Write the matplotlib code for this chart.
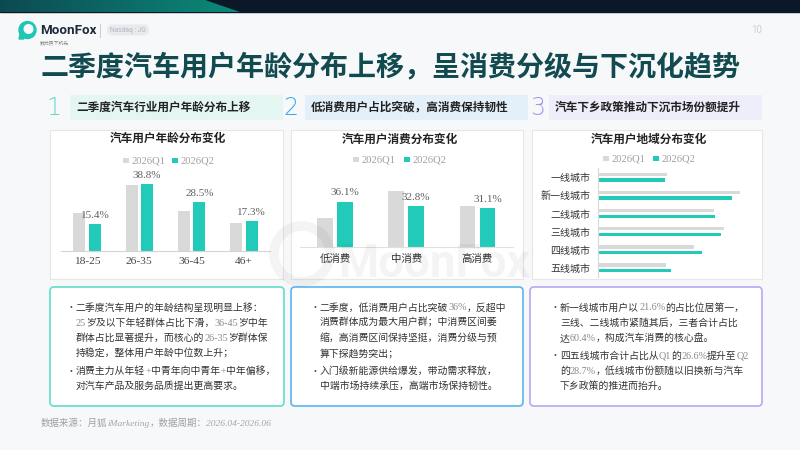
import re
import matplotlib
matplotlib.use('Agg')
import matplotlib.pyplot as plt
from matplotlib.patches import FancyBboxPatch, Rectangle, Polygon, Circle
from matplotlib.colors import LinearSegmentedColormap
import numpy as np

CJK = ['Noto Sans CJK SC', 'DejaVu Sans']
SERIF = ['Liberation Serif', 'DejaVu Serif']
plt.rcParams['font.family'] = CJK

# ---------------- data ----------------
series = ['2026Q1', '2026Q2']
age_groups = ['18-25', '26-35', '36-45', '46+']
age_q1 = [22.0, 38.5, 23.3, 16.2]
age_q2 = [15.4, 38.8, 28.5, 17.3]
spend_levels = ['低消费', '中消费', '高消费']
spend_q1 = [22.9, 44.7, 32.4]
spend_q2 = [36.1, 32.8, 31.1]
city_tiers = ['一线城市', '新一线城市', '二线城市', '三线城市', '四线城市', '五线城市']
city_q1 = [11.2, 23.0, 18.8, 20.4, 15.5, 11.1]
city_q2 = [10.9, 21.6, 18.9, 19.9, 16.8, 11.9]

title = '二季度汽车用户年龄分布上移，呈消费分级与下沉化趋势'
headers = ['二季度汽车行业用户年龄分布上移', '低消费用户占比突破，高消费保持韧性', '汽车下乡政策推动下沉市场份额提升']
chart_titles = ['汽车用户年龄分布变化', '汽车用户消费分布变化', '汽车用户地域分布变化']
box1_bullets = [
    ['二季度汽车用户的年龄结构呈现明显上移：', '25岁及以下年轻群体占比下滑，36-45岁中年',
     '群体占比显著提升，而核心的26-35岁群体保', '持稳定，整体用户年龄中位数上升；'],
    ['消费主力从年轻+中青年向中青年+中年偏移，', '对汽车产品及服务品质提出更高要求。'],
]
box2_bullets = [
    ['二季度，低消费用户占比突破36%，反超中', '消费群体成为最大用户群；中消费区间萎',
     '缩，高消费区间保持坚挺，消费分级与预', '算下探趋势突出；'],
    ['入门级新能源供给爆发，带动需求释放，', '中端市场持续承压，高端市场保持韧性。'],
]
box3_bullets = [
    ['新一线城市用户以21.6%的占比位居第一，', '三线、二线城市紧随其后，三者合计占比',
     '达60.4%，构成汽车消费的核心盘。'],
    ['四五线城市合计占比从Q1的26.6%提升至Q2', '的28.7%，低线城市份额随以旧换新与汽车',
     '下乡政策的推进而抬升。'],
]
source = '数据来源：月狐iMarketing，数据周期：2026.04-2026.06'

Q1C = '#d9d9d9'
Q2C = '#22cbb9'

W, H = 800, 450
fig = plt.figure(figsize=(8, 4.5), dpi=100)
fig.patch.set_facecolor('#f7f8fa')
bg = fig.add_axes([0, 0, 1, 1], zorder=0)
bg.set_xlim(0, W); bg.set_ylim(H, 0); bg.axis('off')
renderer = fig.canvas.get_renderer()


def frac(l, t, r, b):
    return [l / W, 1 - b / H, (r - l) / W, (b - t) / H]


ALT = r'[0-9A-Za-z.%+\-]'


def rich(ax, x, y, s, size, color, alt_color, zorder=6, alt_style='normal', weight='normal', alt_size=None):
    parts = re.findall(ALT + r'+|[^0-9A-Za-z.%+\-]+', s)
    for p in parts:
        alt = re.match(ALT, p) is not None
        t = ax.text(x, y, p, fontsize=(alt_size or size) if alt else size,
                    color=alt_color if alt else color,
                    family=SERIF if alt else CJK, style=alt_style if alt else 'normal',
                    weight=weight, va='baseline', ha='left', zorder=zorder)
        x += t.get_window_extent(renderer).width


# ---------------- top band ----------------
bg.add_patch(Rectangle((0, 0), W, 12, color='#0a1828', zorder=1))
poly = Polygon([(0, 0), (205, 0), (240, 12), (0, 12)], closed=True, transform=bg.transData,
               facecolor='none', edgecolor='none')
bg.add_patch(poly)
grad = np.linspace(0, 1, 256).reshape(1, -1)
cmap = LinearSegmentedColormap.from_list('g', ['#0d4a52', '#0b8a79'])
im = bg.imshow(grad, extent=(0, 240, 12, 0), cmap=cmap, aspect='auto', zorder=2)
im.set_clip_path(poly)
bg.set_xlim(0, W); bg.set_ylim(H, 0)

# logo
bg.add_patch(Circle((27.5, 30), 8.5, color='#1fc6b4', zorder=3))
bg.add_patch(Circle((28.5, 29), 4.3, color='#f7f8fa', zorder=4))
bg.add_patch(Polygon([(20, 34), (24, 39), (19, 39)], color='#1fc6b4', zorder=3))
bg.text(40, 30.5, 'MoonFox', fontsize=9.6, weight='bold', family=['Roboto', 'DejaVu Sans'],
        color='#1d2b3a', va='center', ha='left', zorder=4)
bg.text(40, 42.5, '数光照下机先', fontsize=3.5, color='#888888', va='center', ha='left', zorder=4)
bg.plot([100, 100], [24, 37], color='#c9cdd2', lw=0.7, zorder=3)
bg.add_patch(FancyBboxPatch((107, 24.5), 42, 11, boxstyle='round,pad=0,rounding_size=5.5',
                            facecolor='#e8eaed', edgecolor='none', zorder=3))
bg.text(128, 30.2, 'Nasdaq : JG', fontsize=4.8, color='#b2b6bc', family=['Roboto', 'DejaVu Sans'],
        va='center', ha='center', zorder=4)
bg.text(757, 30, '10', fontsize=7, color='#cfcfcf', family=['Roboto', 'DejaVu Sans'],
        va='center', ha='center', zorder=4)

# title
bg.text(41, 68, title, fontsize=20.2, weight='bold', color='#114a4f', va='center', ha='left', zorder=4)

# ---------------- section headers ----------------
hdr = [
    (54, 70, 283, '#5fd8c6', '#e4f6f2'),
    (291, 305, 528, '#3aa8ee', '#e3f0fa'),
    (538, 549, 762, '#a592f0', '#eeedfa'),
]
for i, (nx, bx0, bx1, ncol, fcol) in enumerate(hdr):
    bg.add_patch(Rectangle((bx0, 95), bx1 - bx0, 25, facecolor=fcol, edgecolor='none', zorder=2))
    bg.text(nx, 108, str(i + 1), fontsize=17, color=ncol, family=['DejaVu Sans'], weight='light',
            va='center', ha='center', zorder=3)
    bg.text(bx0 + 6, 107.5, headers[i], fontsize=8.4, weight='bold', color='#222222',
            va='center', ha='left', zorder=3)

# ---------------- chart panels ----------------
panels = [(50, 283), (291, 523), (532, 762)]
for (l, r) in panels:
    bg.add_patch(Rectangle((l, 130), r - l, 149, facecolor='white', edgecolor='#e6e6e6', lw=0.8, zorder=2))

title_pos = [(168, 138.5), (400, 139), (649, 139)]
for (cx, cy), t in zip(title_pos, chart_titles):
    bg.text(cx, cy, t, fontsize=8.4, weight='bold', color='#222222', va='center', ha='center', zorder=3)

legend_pos = [(123, 172, 160.5), (353, 404, 159.5), (603, 653, 158.5)]
for (x1, x2, ly) in legend_pos:
    for xs, col, name in ((x1, Q1C, series[0]), (x2, Q2C, series[1])):
        bg.add_patch(Rectangle((xs, ly - 2.8), 5.5, 5.5, facecolor=col, edgecolor='none', zorder=3))
        bg.text(xs + 8.5, ly + 2.9, name, fontsize=7.6, color='#a0a0a0', family=SERIF,
                va='baseline', ha='left', zorder=3)

# chart 1: age
ax1 = fig.add_axes(frac(61, 170, 270, 251), zorder=3)
ax1.patch.set_alpha(0)
x = np.arange(len(age_groups))
ax1.bar(x - 0.15, age_q1, 0.23, color=Q1C)
ax1.bar(x + 0.15, age_q2, 0.23, color=Q2C)
for xi, v in zip(x, age_q2):
    ax1.annotate(f'{v}%', (xi + 0.15, v), xytext=(0, 3.0), textcoords='offset points',
                 ha='center', va='bottom', family=SERIF, fontsize=8, color='#606060')
ax1.set_xlim(-0.5, len(age_groups) - 0.5)
ax1.set_ylim(0, 46.9)
ax1.set_xticks(x, age_groups)
ax1.set_yticks([])
ax1.tick_params(axis='x', length=0, pad=4.5, labelsize=8.2, labelcolor='#444444')
for lb in ax1.get_xticklabels():
    lb.set_family(SERIF)
for s in ['top', 'right', 'left']:
    ax1.spines[s].set_visible(False)
ax1.spines['bottom'].set_color('#d4d4d4'); ax1.spines['bottom'].set_linewidth(0.8)

# chart 2: spending
ax2 = fig.add_axes(frac(299.5, 170, 513, 247.3), zorder=3)
ax2.patch.set_alpha(0)
x2 = np.arange(len(spend_levels))
ax2.bar(x2 - 0.14, spend_q1, 0.22, color=Q1C)
ax2.bar(x2 + 0.14, spend_q2, 0.22, color=Q2C)
for xi, v in zip(x2, spend_q2):
    ax2.annotate(f'{v}%', (xi + 0.14, v), xytext=(0, 3.0), textcoords='offset points',
                 ha='center', va='bottom', family=SERIF, fontsize=8, color='#606060')
ax2.set_xlim(-0.5, len(spend_levels) - 0.5)
ax2.set_ylim(0, 61.1)
ax2.set_xticks(x2, spend_levels)
ax2.set_yticks([])
ax2.tick_params(axis='x', length=0, pad=5, labelsize=7.5, labelcolor='#333333')
for s in ['top', 'right', 'left']:
    ax2.spines[s].set_visible(False)
ax2.spines['bottom'].set_color('#e0e0e0'); ax2.spines['bottom'].set_linewidth(0.8)

# chart 3: city tiers
ax3 = fig.add_axes(frac(597.7, 168, 760, 277), zorder=3)
ax3.patch.set_alpha(0)
y3 = np.arange(len(city_tiers))
ax3.barh(y3 - 0.155, city_q1, 0.19, color=Q1C)
ax3.barh(y3 + 0.155, city_q2, 0.19, color=Q2C)
ax3.set_ylim(len(city_tiers) - 0.5, -0.5)
ax3.set_xlim(0, 26.2)
ax3.set_yticks(y3, city_tiers)
ax3.set_xticks([])
ax3.tick_params(axis='y', length=0, pad=5.5, labelsize=7.2, labelcolor='#333333')
for s in ['top', 'right', 'bottom']:
    ax3.spines[s].set_visible(False)
ax3.spines['left'].set_color('#d9d9d9'); ax3.spines['left'].set_linewidth(0.8)

# ---------------- text boxes ----------------
boxes = [
    (50, 284, '#62dccb', box1_bullets, 76),
    (291, 523, '#5bb4f0', box2_bullets, 320),
    (530, 762, '#b8a7f5', box3_bullets, 560),
]
for (l, r, ec, bullets, tx) in boxes:
    bg.add_patch(FancyBboxPatch((l, 287), r - l, 119, boxstyle='round,pad=0,rounding_size=4',
                                facecolor='white', edgecolor=ec, lw=1.2, zorder=2))
    y = 307
    for bi, lines in enumerate(bullets):
        if bi > 0:
            y += 2.5
        bg.text(tx - 10, y + 3.3, '•', fontsize=6.5, color='#333333', va='baseline', ha='left', zorder=6)
        for ln in lines:
            rich(bg, tx, y + 3.5, ln, 7.1, '#333333', '#8a8a8a', alt_size=7.3)
            y += 15.2

# footer
rich(bg, 40.5, 425.5, source, 6.8, '#a0a0a0', '#a6a6a6', alt_style='italic')

# ---------------- watermark ----------------
ov = fig.add_axes([0, 0, 1, 1], zorder=10)
ov.set_xlim(0, W); ov.set_ylim(H, 0); ov.axis('off'); ov.patch.set_alpha(0)
ov.add_patch(Circle((302, 254), 28, facecolor='none', edgecolor='#000000', lw=7, alpha=0.045))
ov.text(338, 264, 'MoonFox', fontsize=33, weight='bold', family=['Roboto', 'DejaVu Sans'],
        color='#000000', alpha=0.045, va='center', ha='left')

fig.savefig('out.png', dpi=100, facecolor=fig.get_facecolor())
